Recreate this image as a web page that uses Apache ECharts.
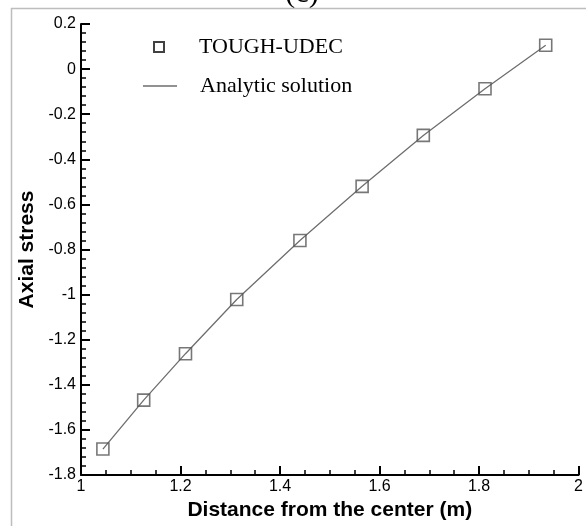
<!DOCTYPE html>
<html><head><meta charset="utf-8">
<script src="https://cdn.jsdelivr.net/npm/echarts@6/dist/echarts.min.js"></script>
<style>html,body{margin:0;padding:0;background:#fff}#c{width:586px;height:526px}</style>
</head><body><div id="c"></div>
<script>
// Data
const udecX = [1.044, 1.126, 1.21, 1.313, 1.44, 1.565, 1.688, 1.812, 1.934];
const udecY = [-1.685, -1.468, -1.262, -1.022, -0.76, -0.52, -0.294, -0.087, 0.106];
const analyticX = [1.044, 1.126, 1.21, 1.313, 1.44, 1.565, 1.688, 1.812, 1.934];
const analyticY = [-1.685, -1.468, -1.262, -1.022, -0.76, -0.52, -0.294, -0.087, 0.106];
const xTicks = [1, 1.2, 1.4, 1.6, 1.8, 2];
const yTicks = [-1.8, -1.6, -1.4, -1.2, -1, -0.8, -0.6, -0.4, -0.2, 0, 0.2];

const zip = (a, b) => a.map((v, i) => [v, b[i]]);
const chart = echarts.init(document.getElementById('c'), null, {renderer: 'canvas'});
const axisFont = {color: '#000', fontFamily: 'Liberation Sans', fontSize: 16};
const nameFont = {color: '#000', fontFamily: 'Liberation Sans', fontSize: 21, fontWeight: 'bold'};
chart.setOption({
  animation: false,
  backgroundColor: '#fff',
  grid: {left: 81, right: 7, top: 24, bottom: 51},
  graphic: [
    {type: 'line', shape: {x1: 11, y1: 8.5, x2: 586, y2: 8.5}, style: {stroke: '#bdbdbd', lineWidth: 1.5}, z: 10},
    {type: 'line', shape: {x1: 11.5, y1: 8, x2: 11.5, y2: 526}, style: {stroke: '#bdbdbd', lineWidth: 1.5}, z: 10},
    {type: 'text', x: 302, y: 9, style: {text: '(c)', fontFamily: 'Liberation Serif', fontSize: 30, fill: '#000', align: 'center', verticalAlign: 'bottom'}}
  ],
  legend: [{
    data: [{name: 'TOUGH-UDEC', icon: 'path://M0,0H10V10H0Z'}],
    left: 153, top: 36, padding: 0, itemWidth: 34, itemHeight: 10,
    itemStyle: {color: 'rgba(0,0,0,0)', borderColor: '#111', borderWidth: 2},
    textStyle: {fontFamily: 'Liberation Serif', fontSize: 22, color: '#000', padding: [0,0,0,18]}
  }, {
    data: [{name: 'Analytic solution', icon: 'rect'}],
    left: 143, top: 75, padding: 0, itemWidth: 34, itemHeight: 1.5,
    itemStyle: {color: '#6e6e6e'},
    textStyle: {fontFamily: 'Liberation Serif', fontSize: 22, color: '#000', padding: [0,0,0,18]}
  }],
  xAxis: {
    type: 'value', min: 1, max: 2, interval: 0.2,
    name: 'Distance from the center (m)', nameLocation: 'middle', nameGap: 24,
    nameTextStyle: nameFont,
    axisLine: {onZero: false, lineStyle: {color: '#000', width: 2}},
    axisTick: {inside: true, length: 9, lineStyle: {color: '#000', width: 2}},
    minorTick: {show: true, splitNumber: 4, length: 5, lineStyle: {color: '#000', width: 1.5}},
    axisLabel: Object.assign({margin: 4}, axisFont),
    splitLine: {show: false}
  },
  yAxis: {
    type: 'value', min: -1.8, max: 0.2, interval: 0.2,
    name: 'Axial stress', nameLocation: 'middle', nameGap: 42,
    nameTextStyle: nameFont,
    axisLine: {onZero: false, lineStyle: {color: '#000', width: 2}},
    axisTick: {inside: true, length: 9, lineStyle: {color: '#000', width: 2}},
    minorTick: {show: true, splitNumber: 5, length: 5, lineStyle: {color: '#000', width: 1.5}},
    axisLabel: Object.assign({margin: 5}, axisFont),
    splitLine: {show: false}
  },
  series: [{
    name: 'Analytic solution', type: 'line', data: zip(analyticX, analyticY),
    symbol: 'none', lineStyle: {color: '#6e6e6e', width: 1.3}, itemStyle: {color: '#6e6e6e'}, z: 2
  }, {
    name: 'TOUGH-UDEC', type: 'scatter', data: zip(udecX, udecY),
    symbol: 'rect', symbolSize: 12, symbolKeepAspect: true,
    itemStyle: {color: 'rgba(255,255,255,0)', borderColor: '#555', borderWidth: 1.6}, z: 3
  }]
});
</script></body></html>
